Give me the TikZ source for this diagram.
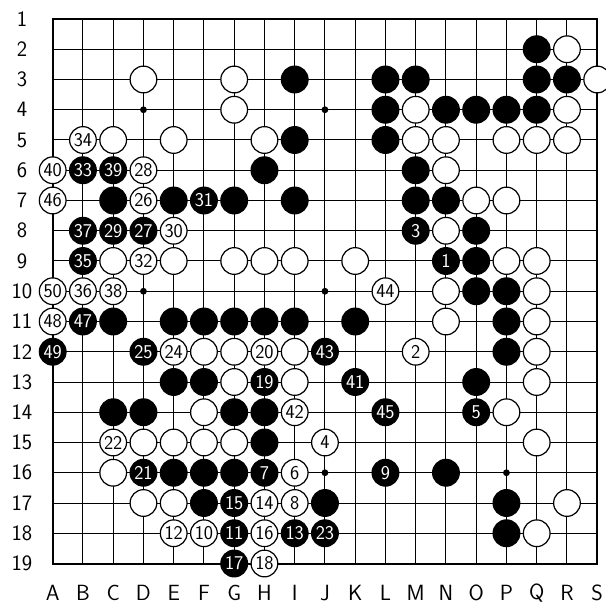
\documentclass[tikz,border=0pt]{standalone}
\usepackage{fontspec}
\setsansfont{Latin Modern Sans}
\begin{document}
\begin{tikzpicture}[x=30.25pt,y=-30.25pt,
  gridline/.style={line width=1pt},
  borderline/.style={line width=2pt},
  stone/.style={circle,minimum size=26.7pt,inner sep=0pt,line width=1.2pt,draw=black,font=\sffamily\fontsize{19.5}{19.5}\selectfont},
  bstone/.style={stone,fill=black,text=white},
  wstone/.style={stone,fill=white,text=black},
  lbl/.style={font=\sffamily\fontsize{22}{22}\selectfont,inner sep=0pt},
  hoshi/.style={circle,fill=black,minimum size=6.8pt,inner sep=0pt}]
\clip (-1.742,-0.628) rectangle (18.291,19.405);
\fill[white] (-1.742,-0.628) rectangle (18.291,19.405);
% intersections
\foreach \L [count=\i from 0] in {A,B,C,D,E,F,G,H,I,J,K,L,M,N,O,P,Q,R,S}{
  \foreach \r in {1,...,19}{
    \coordinate (p\L\r) at (\i,\r-1);
  }
}
% grid
\foreach \r in {2,...,18} \draw[gridline] (pA\r) -- (pS\r);
\foreach \L in {B,C,D,E,F,G,H,I,J,K,L,M,N,O,P,Q,R} \draw[gridline] (p\L1) -- (p\L19);
\draw[borderline] (pA1) -- (pS1) -- (pS19) -- (pA19) -- cycle;
% hoshi
\foreach \s in {D4,J4,P4,D10,J10,P10,D16,J16,P16} \node[hoshi] (h\s) at (p\s) {};
% labels
\foreach \r in {1,...,19} \node[lbl] (row\r) at (-1.015,\r-1) {\r};
\foreach \L [count=\i from 0] in {A,B,C,D,E,F,G,H,I,J,K,L,M,N,O,P,Q,R,S} \node[lbl] (col\L) at (\i,18.98) {\L};
% plain black stones
\foreach \s in {Q2,I3,L3,M3,Q3,R3,L4,N4,O4,P4,Q4,I5,L5,H6,M6,C7,E7,G7,I7,M7,N7,O8,O9,O10,P10,C11,E11,F11,G11,H11,I11,K11,P11,P12,E13,F13,O13,C14,D14,G14,H14,H15,E16,F16,G16,N16,F17,J17,P17,P18}
  \node[bstone] (\s) at (p\s) {};
% plain white stones
\foreach \s in {R2,D3,G3,S3,G4,M4,R4,C5,E5,H5,M5,N5,P5,Q5,R5,N6,O7,P7,N8,C9,E9,G9,H9,I9,K9,P9,Q9,N10,Q10,N11,Q11,F12,G12,I12,Q12,G13,I13,Q13,F14,P14,D15,E15,F15,G15,Q15,C16,D17,E17,R17,Q18}
  \node[wstone] (\s) at (p\s) {};
% numbered black stones
\foreach \s/\n in {B6/33,C6/39,F7/31,B8/37,C8/29,D8/27,M8/3,B9/35,N9/1,B11/47,A12/49,D12/25,J12/43,H13/19,K13/41,L14/45,O14/5,D16/21,H16/7,L16/9,G17/15,G18/11,I18/13,J18/23,G19/17}
  \node[bstone] (\s) at (p\s) {\n};
% numbered white stones
\foreach \s/\n in {B5/34,A6/40,D6/28,A7/46,D7/26,E8/30,D9/32,A10/50,B10/36,C10/38,L10/44,A11/48,E12/24,H12/20,M12/2,I14/42,C15/22,J15/4,I16/6,H17/14,I17/8,E18/12,F18/10,H18/16,H19/18}
  \node[wstone] (\s) at (p\s) {\n};
\end{tikzpicture}
\end{document}
